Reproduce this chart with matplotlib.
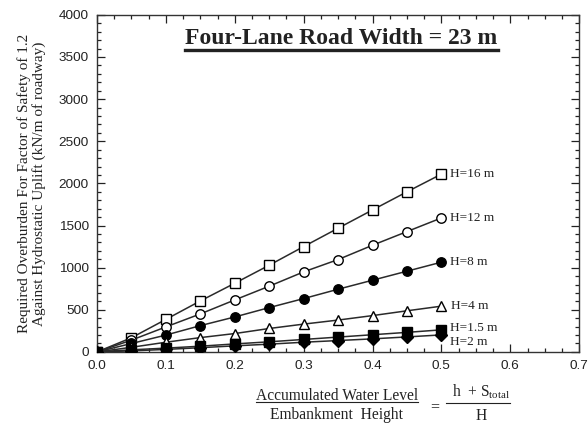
import matplotlib
matplotlib.use("Agg")
import matplotlib.pyplot as plt
from matplotlib.lines import Line2D
from matplotlib.ticker import MultipleLocator, FormatStrFormatter

plt.rcParams["font.family"] = ["Liberation Sans", "DejaVu Sans"]

# Accumulated water level ratio (h + S_total) / H
ratio = [0.0, 0.05, 0.10, 0.15, 0.20, 0.25, 0.30, 0.35, 0.40, 0.45, 0.50]

# Required overburden (kN/m of roadway) for each embankment height
h16 = [0, 168, 386, 605, 815, 1029, 1250, 1468, 1685, 1900, 2110]
h12 = [0, 140, 297, 451, 617, 780, 950, 1096, 1266, 1428, 1590]
h8 = [0, 100, 200, 312, 415, 526, 633, 744, 851, 958, 1065]
h4 = [0, 55, 115, 170, 218, 278, 330, 378, 431, 488, 543]
h15 = [0, 25, 45, 68, 95, 120, 148, 176, 204, 232, 262]
h2 = [0, 12, 30, 50, 72, 92, 115, 135, 155, 178, 202]

series_labels = ["H=16 m", "H=12 m", "H=8 m", "H=4 m", "H=1.5 m", "H=2 m"]

serif = ["Liberation Serif", "DejaVu Serif"]
ink = "#222222"

fig = plt.figure(figsize=(5.88, 4.24), dpi=100)
ax = fig.add_axes([0.165, 0.170, 0.820, 0.795])

styles = [
    (h16, "s", "white"),
    (h12, "o", "white"),
    (h8, "o", "black"),
    (h4, "^", "white"),
    (h15, "s", "black"),
    (h2, "D", "black"),
]
label_offsets = [(6, 0), (6, 0), (6, 0), (7, 0), (6, 1), (6, -5)]

for (vals, mk, fc), lab, off in zip(styles, series_labels, label_offsets):
    ms = 6.8 if mk != "D" else 5.8
    ax.plot(ratio, vals, color="#2a2a2a", lw=1.1, marker=mk, ms=ms,
            mfc=fc, mec="black", mew=1.0, zorder=3)
    ax.annotate(lab, xy=(ratio[-1], vals[-1]), xytext=off,
                textcoords="offset points", ha="left", va="center",
                fontsize=9.5, family=serif, color=ink)

ax.set_xlim(0, 0.7)
ax.set_ylim(0, 4000)
ax.xaxis.set_major_locator(MultipleLocator(0.1))
ax.xaxis.set_minor_locator(MultipleLocator(0.025))
ax.yaxis.set_major_locator(MultipleLocator(500))
ax.yaxis.set_minor_locator(MultipleLocator(100))
ax.xaxis.set_major_formatter(FormatStrFormatter("%.1f"))
ax.tick_params(which="both", direction="in", top=True, right=True,
               colors=ink, labelsize=9.7, width=0.9)
ax.tick_params(which="major", length=6, pad=6)
ax.tick_params(which="minor", length=3)
for sp in ax.spines.values():
    sp.set_color("#333333")
    sp.set_linewidth(1.0)

ax.set_ylabel("Required Overburden For Factor of Safety of 1.2\n"
              "Against Hydrostatic Uplift (kN/m of roadway)",
              fontsize=11, family=serif, color=ink, labelpad=9,
              linespacing=1.05)

title = ax.text(0.507, 0.962, "Four-Lane Road Width = 23 m", transform=ax.transAxes,
                ha="center", va="top", fontsize=17, fontweight="bold",
                family=serif, color=ink)

# Axis quantity written as a fraction below the x axis
t_num = fig.text(0.573, 0.057, "Accumulated Water Level", ha="center",
                 va="baseline", fontsize=11.2, family=serif, color=ink)
fig.text(0.573, 0.012, "Embankment  Height", ha="center",
         va="baseline", fontsize=11.2, family=serif, color=ink)
fig.text(0.740, 0.030, "=", ha="center", va="baseline", fontsize=11.5,
         family=serif, color=ink)
t_rhs = fig.text(0.818, 0.065, r"h  + S$_{\mathregular{total}}$", ha="center",
                 va="baseline", fontsize=11.2, family=serif, color=ink)
fig.text(0.818, 0.010, "H", ha="center", va="baseline", fontsize=11.2,
         family=serif, color=ink)

fig.canvas.draw()
renderer = fig.canvas.get_renderer()
inv = fig.transFigure.inverted()


def underline(txt, gap, lw, extend=0.0):
    bb = txt.get_window_extent(renderer)
    (x0, y0), (x1, _) = inv.transform([(bb.x0 - extend, bb.y0), (bb.x1, bb.y1)])
    y = y0 - gap / fig.bbox.height
    fig.add_artist(Line2D([x0, x1], [y, y], transform=fig.transFigure,
                          color=ink, lw=lw))


underline(title, 1.0, 2.4)
underline(t_num, -2.0, 0.8)
underline(t_rhs, 1.5, 0.8, extend=6)

fig.savefig("out.png", dpi=100)
